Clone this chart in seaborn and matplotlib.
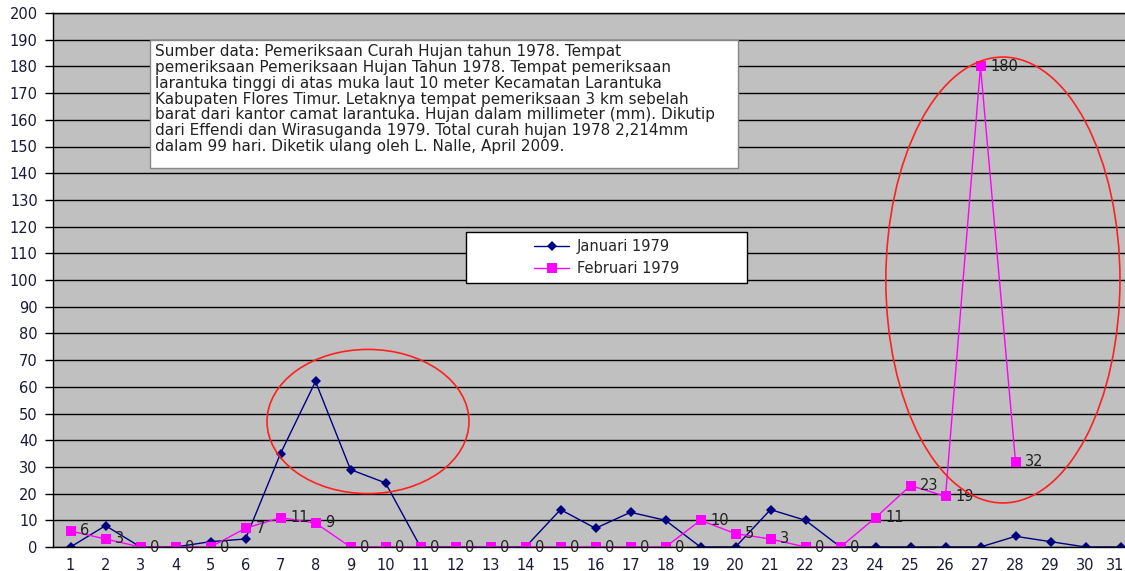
import numpy as np
import pandas as pd
import matplotlib
matplotlib.use("Agg")
import matplotlib.pyplot as plt
import matplotlib.transforms as mtransforms
from matplotlib.patches import Ellipse, Rectangle
from matplotlib.lines import Line2D
import seaborn as sns

# data (rainfall in mm per day)
days_jan = list(range(1, 32))
jan_1979 = [0, 8, 0, 0, 2, 3, 35, 62, 29, 24, 0, 0, 0, 0, 14, 7, 13, 10, 0, 0,
            14, 10, 0, 0, 0, 0, 0, 4, 2, 0, 0]
days_feb = list(range(1, 29))
feb_1979 = [6, 3, 0, 0, 0, 7, 11, 9, 0, 0, 0, 0, 0, 0, 0, 0, 0, 0, 10, 5,
            3, 0, 0, 11, 23, 19, 180, 32]

note = ("Sumber data: Pemeriksaan Curah Hujan tahun 1978. Tempat\n"
        "pemeriksaan Pemeriksaan Hujan Tahun 1978. Tempat pemeriksaan\n"
        "larantuka tinggi di atas muka laut 10 meter Kecamatan Larantuka\n"
        "Kabupaten Flores Timur. Letaknya tempat pemeriksaan 3 km sebelah\n"
        "barat dari kantor camat larantuka. Hujan dalam millimeter (mm). Dikutip\n"
        "dari Effendi dan Wirasuganda 1979. Total curah hujan 1978 2,214mm\n"
        "dalam 99 hari. Diketik ulang oleh L. Nalle, April 2009.")

df_jan = pd.DataFrame({"day": days_jan, "mm": jan_1979})
df_feb = pd.DataFrame({"day": days_feb, "mm": feb_1979})

sns.set_style("white")
plt.rcParams["font.family"] = ["DejaVu Sans"]

W, H = 1125, 571
fig = plt.figure(figsize=(W / 100, H / 100), dpi=100)
ax = fig.add_axes([53 / W, 24 / H, 1085 / W, 534 / H])
ax.set_facecolor("#c0c0c0")


def ax_x(px):
    return (px - 53) / 1085


def ax_y(py):
    return (547 - py) / 534


sns.lineplot(data=df_jan, x="day", y="mm", ax=ax, color="#000080",
             marker="D", markersize=5, linewidth=1, markeredgewidth=0)
sns.lineplot(data=df_feb, x="day", y="mm", ax=ax, color="#ff00ff",
             marker="s", markersize=7.5, linewidth=1, markeredgewidth=0)

for d, v in zip(days_feb, feb_1979):
    ax.text(d + 0.28, v, str(v), fontsize=10.5, color="#222222",
            va="center", ha="left", zorder=5)

ax.set_xlim(0.5, 31.5)
ax.set_ylim(0, 200)
ax.set_yticks(range(0, 201, 10))
ax.set_xticks(days_jan)
ax.set_xticks(np.arange(0.5, 32, 1), minor=True)
ax.tick_params(axis="x", which="major", length=0, pad=8, labelsize=10.5,
               labelcolor="#1a1a3a")
ax.tick_params(axis="x", which="minor", length=5, width=1, color="black")
ax.tick_params(axis="y", which="major", length=6, width=1, color="black",
               labelsize=10.5, left=True, pad=5, labelcolor="#1a1a3a")
ax.yaxis.grid(True, color="black", linewidth=1)
ax.set_axisbelow(True)
ax.set_xlabel("")
ax.set_ylabel("")
for s in ax.spines.values():
    s.set_color("black")
    s.set_linewidth(1)

# keep the last day label inside the picture
last = ax.get_xticklabels()[-1]
last.set_transform(last.get_transform() +
                   mtransforms.ScaledTranslation(-5 / 100, 0, fig.dpi_scale_trans))

# red circles
ax.add_patch(Ellipse((9.5, 47), 5.77, 54, fill=False, edgecolor="#ff2020",
                     linewidth=1.2, zorder=6))
ax.add_patch(Ellipse((27.64, 100), 6.69, 167, fill=False, edgecolor="#ff2020",
                     linewidth=1.2, zorder=6))

# note box
ax.add_patch(Rectangle((ax_x(150), ax_y(168)), 588 / 1085, 128 / 534,
                       transform=ax.transAxes, facecolor="white",
                       edgecolor="#888888", linewidth=1, zorder=7))
ax.text(ax_x(155), ax_y(44), note, transform=ax.transAxes,
        fontsize=11, va="top", ha="left", linespacing=1.07, color="#222222",
        zorder=8)

# legend box
ax.add_patch(Rectangle((ax_x(466), ax_y(283)), 281 / 1085, 51 / 534,
                       transform=ax.transAxes, facecolor="white",
                       edgecolor="black", linewidth=1, zorder=8))
handles = [Line2D([], [], color="#000080", marker="D", markersize=5,
                  markeredgewidth=0, linewidth=1),
           Line2D([], [], color="#ff00ff", marker="s", markersize=7.5,
                  markeredgewidth=0, linewidth=1)]
leg = ax.legend(handles, ["Januari 1979", "Februari 1979"],
                loc="center", bbox_to_anchor=(ax_x(466), ax_y(283),
                                              281 / 1085, 51 / 534),
                fontsize=10.5, frameon=False, handlelength=2.4,
                handletextpad=0.5, borderpad=0.2, labelspacing=0.45)
leg.set_zorder(9)

fig.savefig("out.png", dpi=100)
